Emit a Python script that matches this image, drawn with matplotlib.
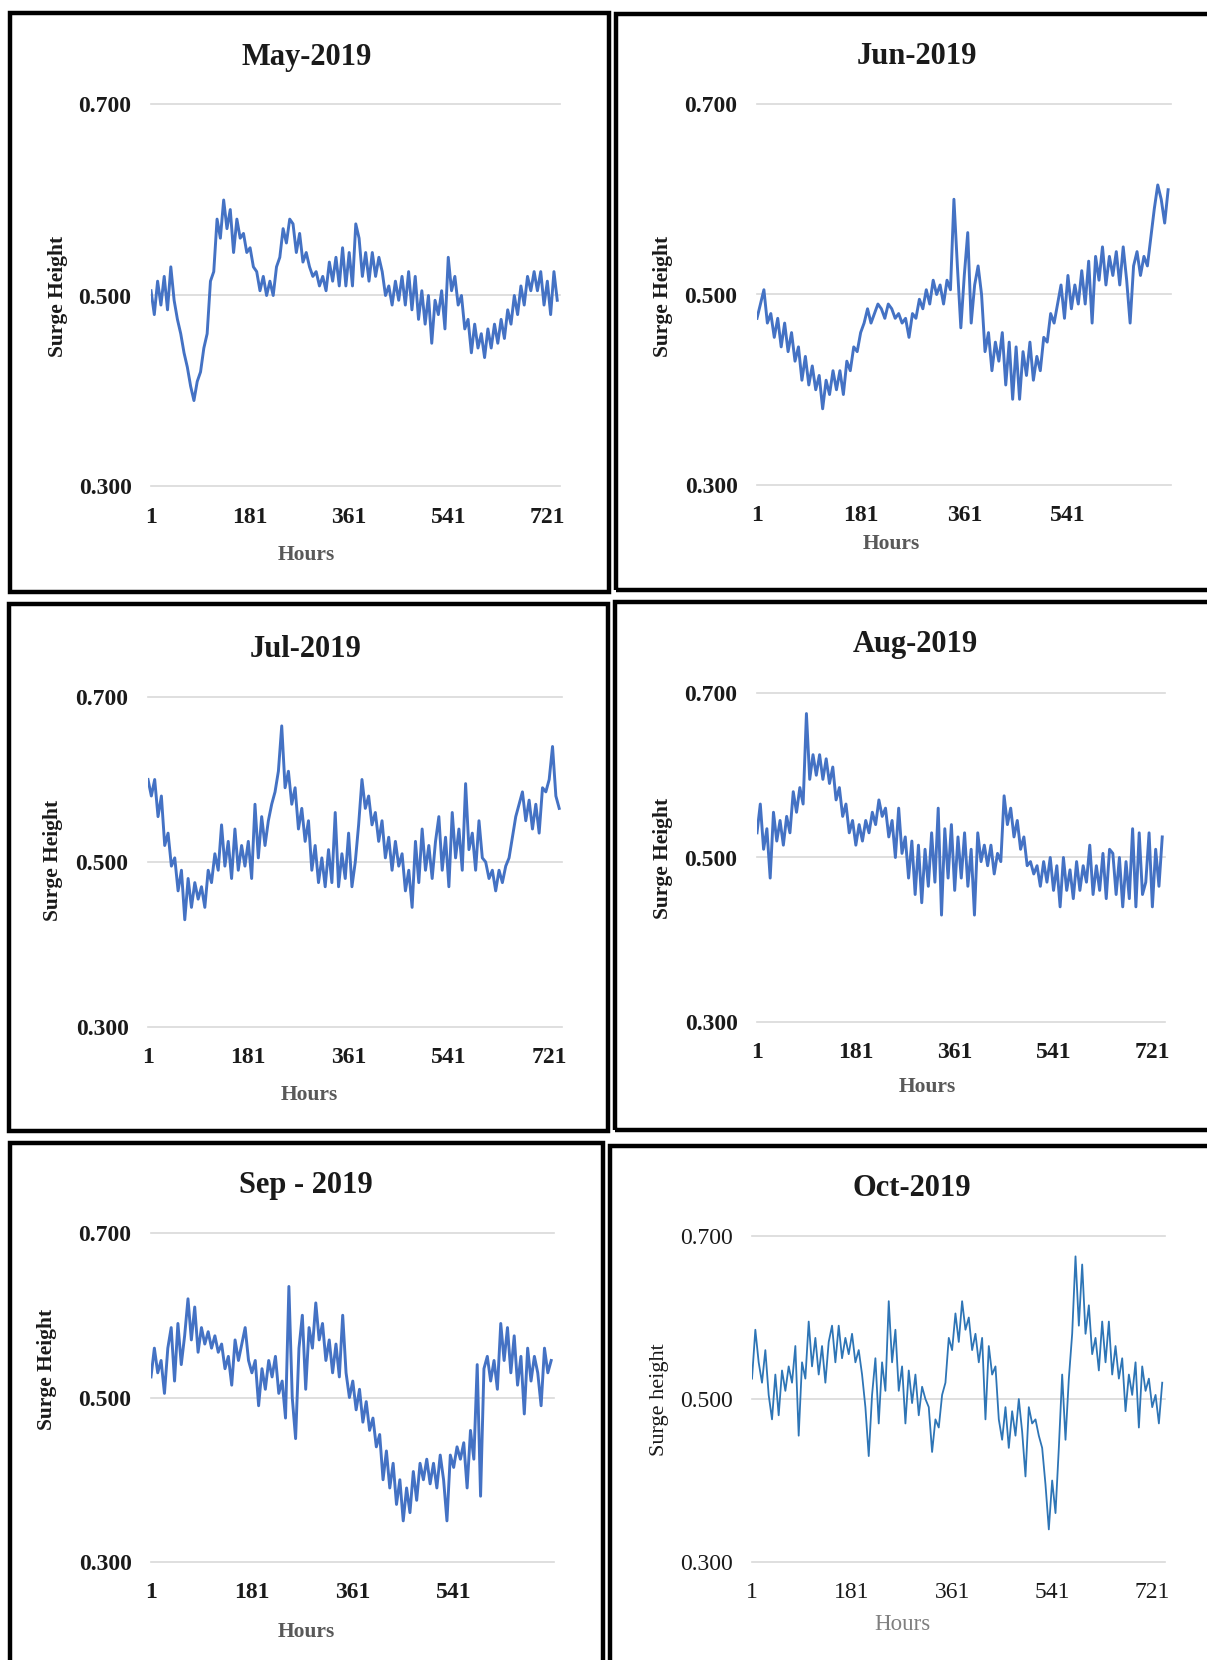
import numpy as np
import matplotlib
matplotlib.use('Agg')
import matplotlib.pyplot as plt
from matplotlib.patches import Rectangle

W, H = 1207, 1660
plt.rcParams['font.family'] = ['Liberation Serif', 'DejaVu Serif']

# surge height, every 6 hours (hour 1, 7, 13, ...)
may_2019 = [0.505, 0.48, 0.515, 0.49, 0.52, 0.485, 0.53, 0.495, 0.475, 0.46,
            0.44, 0.425, 0.405, 0.39, 0.41, 0.42, 0.445, 0.46, 0.515, 0.525,
            0.58, 0.56, 0.60, 0.57, 0.59, 0.545, 0.58, 0.56, 0.565, 0.545,
            0.55, 0.53, 0.525, 0.505, 0.52, 0.50, 0.515, 0.50, 0.53, 0.54,
            0.57, 0.555, 0.58, 0.575, 0.545, 0.565, 0.535, 0.545, 0.53, 0.52,
            0.525, 0.51, 0.52, 0.505, 0.535, 0.515, 0.54, 0.51, 0.55, 0.51,
            0.545, 0.51, 0.575, 0.56, 0.52, 0.545, 0.515, 0.545, 0.52, 0.54,
            0.525, 0.50, 0.51, 0.49, 0.515, 0.495, 0.52, 0.49, 0.525, 0.485,
            0.52, 0.475, 0.505, 0.47, 0.50, 0.45, 0.495, 0.48, 0.505, 0.465,
            0.54, 0.505, 0.52, 0.49, 0.50, 0.465, 0.475, 0.44, 0.47, 0.445,
            0.46, 0.435, 0.465, 0.445, 0.47, 0.45, 0.475, 0.455, 0.485, 0.47,
            0.50, 0.48, 0.51, 0.49, 0.52, 0.505, 0.525, 0.505, 0.525, 0.49,
            0.515, 0.48, 0.525, 0.495]

jun_2019 = [0.475, 0.49, 0.505, 0.47, 0.48, 0.455, 0.475, 0.445, 0.47, 0.44,
            0.46, 0.43, 0.445, 0.41, 0.435, 0.405, 0.425, 0.40, 0.415, 0.38,
            0.41, 0.395, 0.42, 0.40, 0.42, 0.395, 0.43, 0.42, 0.445, 0.44,
            0.46, 0.47, 0.485, 0.47, 0.48, 0.49, 0.485, 0.475, 0.49, 0.485,
            0.475, 0.48, 0.47, 0.475, 0.455, 0.48, 0.475, 0.495, 0.485, 0.505,
            0.49, 0.515, 0.50, 0.51, 0.49, 0.515, 0.505, 0.60, 0.53, 0.465,
            0.52, 0.565, 0.47, 0.51, 0.53, 0.50, 0.44, 0.46, 0.42, 0.45,
            0.43, 0.46, 0.405, 0.45, 0.39, 0.445, 0.39, 0.44, 0.415, 0.45,
            0.41, 0.435, 0.42, 0.455, 0.45, 0.48, 0.47, 0.49, 0.51, 0.475,
            0.52, 0.485, 0.51, 0.49, 0.525, 0.49, 0.535, 0.47, 0.54, 0.515,
            0.55, 0.51, 0.54, 0.52, 0.545, 0.51, 0.55, 0.515, 0.47, 0.53,
            0.545, 0.52, 0.54, 0.53, 0.56, 0.59, 0.615, 0.60, 0.575, 0.61]

jul_2019 = [0.60, 0.58, 0.60, 0.555, 0.58, 0.52, 0.535, 0.495, 0.505, 0.465,
            0.49, 0.43, 0.48, 0.445, 0.475, 0.455, 0.47, 0.445, 0.49, 0.475,
            0.51, 0.49, 0.545, 0.495, 0.525, 0.48, 0.54, 0.49, 0.52, 0.495,
            0.525, 0.48, 0.57, 0.505, 0.555, 0.52, 0.55, 0.57, 0.585, 0.61,
            0.665, 0.59, 0.61, 0.57, 0.59, 0.54, 0.565, 0.525, 0.55, 0.49,
            0.52, 0.475, 0.505, 0.47, 0.515, 0.475, 0.56, 0.47, 0.51, 0.48,
            0.535, 0.47, 0.50, 0.545, 0.60, 0.565, 0.58, 0.545, 0.56, 0.525,
            0.55, 0.505, 0.53, 0.49, 0.525, 0.495, 0.51, 0.465, 0.49, 0.445,
            0.525, 0.475, 0.54, 0.49, 0.52, 0.48, 0.525, 0.555, 0.49, 0.53,
            0.47, 0.56, 0.505, 0.54, 0.49, 0.595, 0.515, 0.535, 0.49, 0.55,
            0.505, 0.50, 0.48, 0.49, 0.465, 0.49, 0.475, 0.495, 0.505, 0.53,
            0.555, 0.57, 0.585, 0.55, 0.575, 0.54, 0.57, 0.535, 0.59, 0.585,
            0.60, 0.64, 0.58, 0.565]

aug_2019 = [0.53, 0.565, 0.51, 0.535, 0.475, 0.555, 0.52, 0.545, 0.515, 0.55,
            0.53, 0.58, 0.555, 0.585, 0.565, 0.675, 0.595, 0.625, 0.60, 0.625,
            0.595, 0.62, 0.59, 0.61, 0.57, 0.585, 0.55, 0.565, 0.53, 0.545,
            0.515, 0.54, 0.52, 0.545, 0.53, 0.555, 0.54, 0.57, 0.55, 0.56,
            0.525, 0.545, 0.50, 0.56, 0.505, 0.525, 0.475, 0.52, 0.455, 0.515,
            0.445, 0.51, 0.465, 0.53, 0.47, 0.56, 0.43, 0.535, 0.475, 0.54,
            0.46, 0.525, 0.475, 0.53, 0.465, 0.51, 0.43, 0.53, 0.495, 0.515,
            0.49, 0.515, 0.48, 0.505, 0.495, 0.575, 0.54, 0.56, 0.525, 0.545,
            0.51, 0.525, 0.49, 0.495, 0.48, 0.49, 0.465, 0.495, 0.47, 0.50,
            0.46, 0.49, 0.44, 0.50, 0.46, 0.485, 0.45, 0.495, 0.46, 0.49,
            0.47, 0.515, 0.455, 0.49, 0.46, 0.505, 0.45, 0.51, 0.505, 0.455,
            0.50, 0.44, 0.495, 0.45, 0.535, 0.44, 0.53, 0.455, 0.47, 0.53,
            0.44, 0.51, 0.465, 0.525]

sep_2019 = [0.525, 0.56, 0.53, 0.545, 0.505, 0.56, 0.585, 0.52, 0.59, 0.54,
            0.575, 0.62, 0.57, 0.61, 0.555, 0.585, 0.565, 0.58, 0.56, 0.575,
            0.555, 0.565, 0.535, 0.55, 0.515, 0.57, 0.545, 0.565, 0.585, 0.545,
            0.53, 0.545, 0.49, 0.535, 0.51, 0.545, 0.525, 0.55, 0.505, 0.52,
            0.475, 0.635, 0.50, 0.45, 0.56, 0.60, 0.51, 0.585, 0.56, 0.615,
            0.57, 0.59, 0.545, 0.57, 0.53, 0.565, 0.525, 0.60, 0.53, 0.50,
            0.52, 0.485, 0.51, 0.47, 0.495, 0.46, 0.475, 0.44, 0.455, 0.40,
            0.435, 0.39, 0.42, 0.37, 0.40, 0.35, 0.39, 0.36, 0.41, 0.375,
            0.42, 0.40, 0.425, 0.395, 0.42, 0.39, 0.43, 0.40, 0.35, 0.43,
            0.415, 0.44, 0.425, 0.445, 0.39, 0.46, 0.425, 0.54, 0.38, 0.535,
            0.55, 0.52, 0.545, 0.51, 0.59, 0.545, 0.585, 0.53, 0.575, 0.515,
            0.55, 0.48, 0.56, 0.52, 0.55, 0.53, 0.49, 0.56, 0.53, 0.545]

oct_2019 = [0.525, 0.585, 0.545, 0.52, 0.56, 0.505, 0.475, 0.53, 0.48, 0.535,
            0.51, 0.54, 0.52, 0.565, 0.455, 0.545, 0.525, 0.595, 0.54, 0.575,
            0.53, 0.565, 0.52, 0.57, 0.59, 0.545, 0.59, 0.55, 0.575, 0.555,
            0.58, 0.545, 0.56, 0.53, 0.49, 0.43, 0.505, 0.55, 0.47, 0.545,
            0.51, 0.62, 0.545, 0.585, 0.51, 0.54, 0.47, 0.535, 0.495, 0.53,
            0.48, 0.515, 0.50, 0.49, 0.435, 0.475, 0.465, 0.505, 0.52, 0.575,
            0.56, 0.605, 0.57, 0.62, 0.585, 0.60, 0.56, 0.58, 0.545, 0.575,
            0.475, 0.565, 0.53, 0.54, 0.475, 0.45, 0.49, 0.44, 0.485, 0.455,
            0.50, 0.46, 0.405, 0.49, 0.47, 0.475, 0.455, 0.44, 0.395, 0.34,
            0.40, 0.36, 0.44, 0.53, 0.45, 0.525, 0.58, 0.675, 0.59, 0.665,
            0.58, 0.615, 0.555, 0.575, 0.535, 0.595, 0.545, 0.595, 0.53, 0.565,
            0.525, 0.55, 0.485, 0.53, 0.505, 0.545, 0.465, 0.54, 0.51, 0.525,
            0.49, 0.505, 0.47, 0.52]

x_ticks = [1, 181, 361, 541, 721]
y_ticks = [0.3, 0.5, 0.7]
y_ticklabels = ['0.300', '0.500', '0.700']

# pixel layout: box = frame (x0, y0, x1, y1), ax = plot area (left, top, right, bottom)
panels = [
    dict(title='May-2019', data=may_2019, hours=744, box=(10, 13, 608.5, 592),
         ax=(151, 104.5, 560, 486.5), title_xy=(307, 57), ylabel_xy=(58, 296),
         xlabel_xy=(306, 555), ylabel='Surge Height', bold=True),
    dict(title='Jun-2019', data=jun_2019, hours=720, box=(615.5, 14.5, 1230, 590),
         ax=(757, 104, 1171, 485), title_xy=(917, 57), ylabel_xy=(663, 296),
         xlabel_xy=(891.5, 544), ylabel='Surge Height', bold=True),
    dict(title='Jul-2019', data=jul_2019, hours=744, box=(8.5, 604, 608, 1131),
         ax=(148, 697, 562, 1027), title_xy=(306, 649), ylabel_xy=(53, 860),
         xlabel_xy=(309, 1095), ylabel='Surge Height', bold=True),
    dict(title='Aug-2019', data=aug_2019, hours=744, box=(615, 602, 1230, 1130),
         ax=(757, 693, 1165, 1022), title_xy=(915, 644), ylabel_xy=(663, 858),
         xlabel_xy=(927.5, 1087), ylabel='Surge Height', bold=True),
    dict(title='Sep - 2019', data=sep_2019, hours=720, box=(10, 1143, 603, 1680),
         ax=(151, 1233, 554, 1562), title_xy=(306, 1186), ylabel_xy=(47, 1369),
         xlabel_xy=(306, 1632), ylabel='Surge Height', bold=True),
    dict(title='Oct-2019', data=oct_2019, hours=744, box=(610, 1146, 1230, 1680),
         ax=(752, 1236, 1165, 1562), title_xy=(911.5, 1188), ylabel_xy=(659.5, 1400),
         xlabel_xy=(902, 1624), ylabel='Surge height', bold=False),
]

fig = plt.figure(figsize=(W / 100, H / 100), dpi=100)

for p in panels:
    weight = 'bold' if p['bold'] else 'normal'
    l, t, r, b = p['ax']
    ax = fig.add_axes([l / W, 1 - b / H, (r - l) / W, (b - t) / H])

    hrs = 1 + 6 * np.arange(len(p['data']))
    if p['bold']:
        ax.plot(hrs, p['data'], color='#4472C4', lw=2.1, zorder=3)
    else:
        ax.plot(hrs, p['data'], color='#2E75B6', lw=1.3, zorder=3)

    for y in y_ticks:
        ax.axhline(y, color='#d9d9d9', lw=1.2, zorder=1, clip_on=False)

    ax.set_xlim(1, p['hours'])
    ax.set_ylim(0.3, 0.7)
    xt = [h for h in x_ticks if h <= p['hours']]
    ax.set_xticks(xt, labels=[str(h) for h in xt])
    ax.set_yticks(y_ticks, labels=y_ticklabels)
    ax.tick_params(length=0, labelsize=17, colors='#1a1a1a')
    ax.tick_params(axis='x', pad=14.5)
    ax.tick_params(axis='y', pad=14)
    for lab in ax.get_xticklabels() + ax.get_yticklabels():
        lab.set_fontweight(weight)
    for s in ax.spines.values():
        s.set_visible(False)
    ax.patch.set_alpha(0)

    fig.text(p['title_xy'][0] / W, 1 - p['title_xy'][1] / H, p['title'],
             ha='center', va='center', fontsize=22, fontweight='bold', color='#1a1a1a')
    fig.text(p['ylabel_xy'][0] / W, 1 - p['ylabel_xy'][1] / H, p['ylabel'],
             ha='center', va='center', rotation=90, fontsize=15.5 if p['bold'] else 16,
             fontweight=weight, color='#1a1a1a')
    fig.text(p['xlabel_xy'][0] / W, 1 - p['xlabel_xy'][1] / H, 'Hours',
             ha='center', va='center', fontsize=15.5 if p['bold'] else 16.5,
             fontweight=weight, color='#595959' if p['bold'] else '#7f7f7f')

    x0, y0, x1, y1 = p['box']
    fig.patches.append(Rectangle((x0 / W, 1 - y1 / H), (x1 - x0) / W, (y1 - y0) / H,
                                 transform=fig.transFigure, fill=False,
                                 lw=3.2, ec='black', zorder=5))

fig.savefig('out.png', dpi=100)
